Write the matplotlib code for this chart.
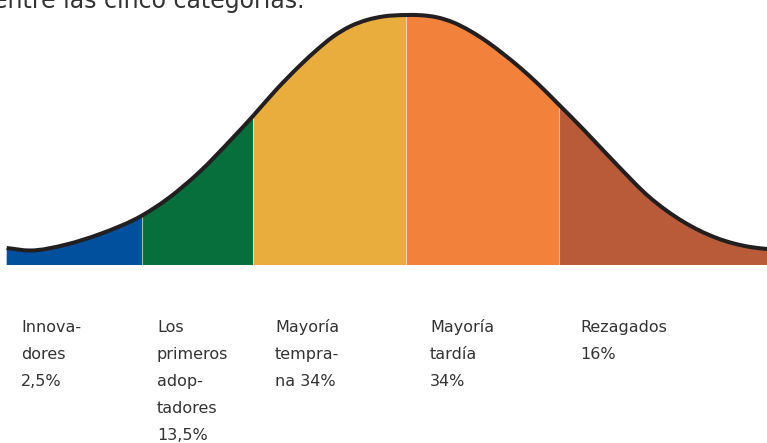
import numpy as np
import matplotlib
matplotlib.use("Agg")
import matplotlib.pyplot as plt
from matplotlib.path import Path
from matplotlib.patches import PathPatch

# ---------------- data ----------------
categories = ["Innovadores", "Los primeros adoptadores", "Mayoría temprana",
              "Mayoría tardía", "Rezagados"]
shares = [2.5, 13.5, 34, 34, 16]
label_texts = ["Innova-\ndores\n2,5%",
               "Los\nprimeros\nadop-\ntadores\n13,5%",
               "Mayoría\ntempra-\nna 34%",
               "Mayoría\ntardía\n34%",
               "Rezagados\n16%"]
title_text = "entre las cinco categorías."

# segment boundaries along the curve (in standard deviations from the mean)
bounds = [-2.61, -1.725, -1.00, 0.00, 1.00, 2.36]

# bell curve (x in sigma units, relative height)
curve_z = [-2.61, -2.46, -2.22, -2.00, -1.725, -1.56, -1.35, -1.13, -1.00,
           -0.85, -0.69, -0.58, -0.48, -0.37, -0.25, -0.15, 0.00, 0.10,
           0.20, 0.31, 0.42, 0.53, 0.63, 0.75, 0.86, 1.00, 1.16, 1.38,
           1.59, 1.81, 2.03, 2.25, 2.36]
curve_h = [0.068, 0.058, 0.082, 0.124, 0.198, 0.264, 0.372, 0.510, 0.596,
           0.700, 0.800, 0.862, 0.912, 0.953, 0.981, 0.994, 1.000, 0.999,
           0.991, 0.970, 0.936, 0.893, 0.847, 0.787, 0.726, 0.641, 0.542,
           0.400, 0.272, 0.174, 0.108, 0.072, 0.064]

colors = ["#00509E", "#066F3B", "#E8AD3D", "#F2823B", "#B95B38"]
curve_color = "#231F20"
text_color = "#333333"

# ---------------- layout ----------------
W, H = 767, 443
fig = plt.figure(figsize=(W / 100, H / 100), dpi=100)
fig.patch.set_facecolor("white")
ax = fig.add_axes([0, 0, 1, 1])
mean_px, sigma_px, base_px, height_px = 406, 153, 265, 250
ax.set_xlim((0 - mean_px) / sigma_px, (W - mean_px) / sigma_px)
ax.set_ylim((base_px - H) / height_px, base_px / height_px)
ax.axis("off")

z = np.array(curve_z)
h = np.array(curve_h)
n = len(z)

# tangents for a smooth (Hermite / Bezier) rendering through the read points
m = np.zeros(n)
for i in range(n):
    if i == 0:
        m[i] = (h[1] - h[0]) / (z[1] - z[0])
    elif i == n - 1:
        m[i] = (h[-1] - h[-2]) / (z[-1] - z[-2])
    else:
        d0 = z[i] - z[i - 1]
        d1 = z[i + 1] - z[i]
        s0 = (h[i] - h[i - 1]) / d0
        s1 = (h[i + 1] - h[i]) / d1
        m[i] = (s0 * d1 + s1 * d0) / (d0 + d1)


def curve_segments(a, b):
    verts, codes = [], []
    for i in range(a, b):
        dz = z[i + 1] - z[i]
        verts += [(z[i] + dz / 3, h[i] + m[i] * dz / 3),
                  (z[i + 1] - dz / 3, h[i + 1] - m[i + 1] * dz / 3),
                  (z[i + 1], h[i + 1])]
        codes += [Path.CURVE4] * 3
    return verts, codes


idx = [int(np.argmin(np.abs(z - b))) for b in bounds]

for k in range(len(colors)):
    a, b = idx[k], idx[k + 1]
    cv, cc = curve_segments(a, b)
    verts = [(z[a], 0), (z[a], h[a])] + cv + [(z[b], 0), (z[a], 0)]
    codes = [Path.MOVETO, Path.LINETO] + cc + [Path.LINETO, Path.CLOSEPOLY]
    ax.add_patch(PathPatch(Path(verts, codes), facecolor=colors[k],
                           edgecolor="none", lw=0, zorder=1))

# faint separators between segments
for j in idx[1:-1]:
    ax.plot([z[j], z[j]], [0, h[j]], color="white", lw=0.8, alpha=0.55,
            zorder=2)

cv, cc = curve_segments(0, n - 1)
line_path = Path([(z[0], h[0])] + cv, [Path.MOVETO] + cc)
ax.add_patch(PathPatch(line_path, facecolor="none", edgecolor=curve_color,
                       lw=2.9, capstyle="butt", joinstyle="round", zorder=3))

# title (cut at top of the image, as in the original)
fig.text(-7 / W, 1 - 8.3 / H, title_text, fontsize=17, color=text_color,
         ha="left", va="baseline", family="DejaVu Sans")

# category labels
label_x = [21, 157, 275, 430, 580]
first_baseline, step = 332, 27
for x0, txt in zip(label_x, label_texts):
    for k, line in enumerate(txt.split("\n")):
        fig.text(x0 / W, 1 - (first_baseline + k * step) / H, line,
                 fontsize=11.5, color=text_color, ha="left", va="baseline",
                 family="DejaVu Sans")

fig.savefig("out.png", dpi=100, facecolor="white")
